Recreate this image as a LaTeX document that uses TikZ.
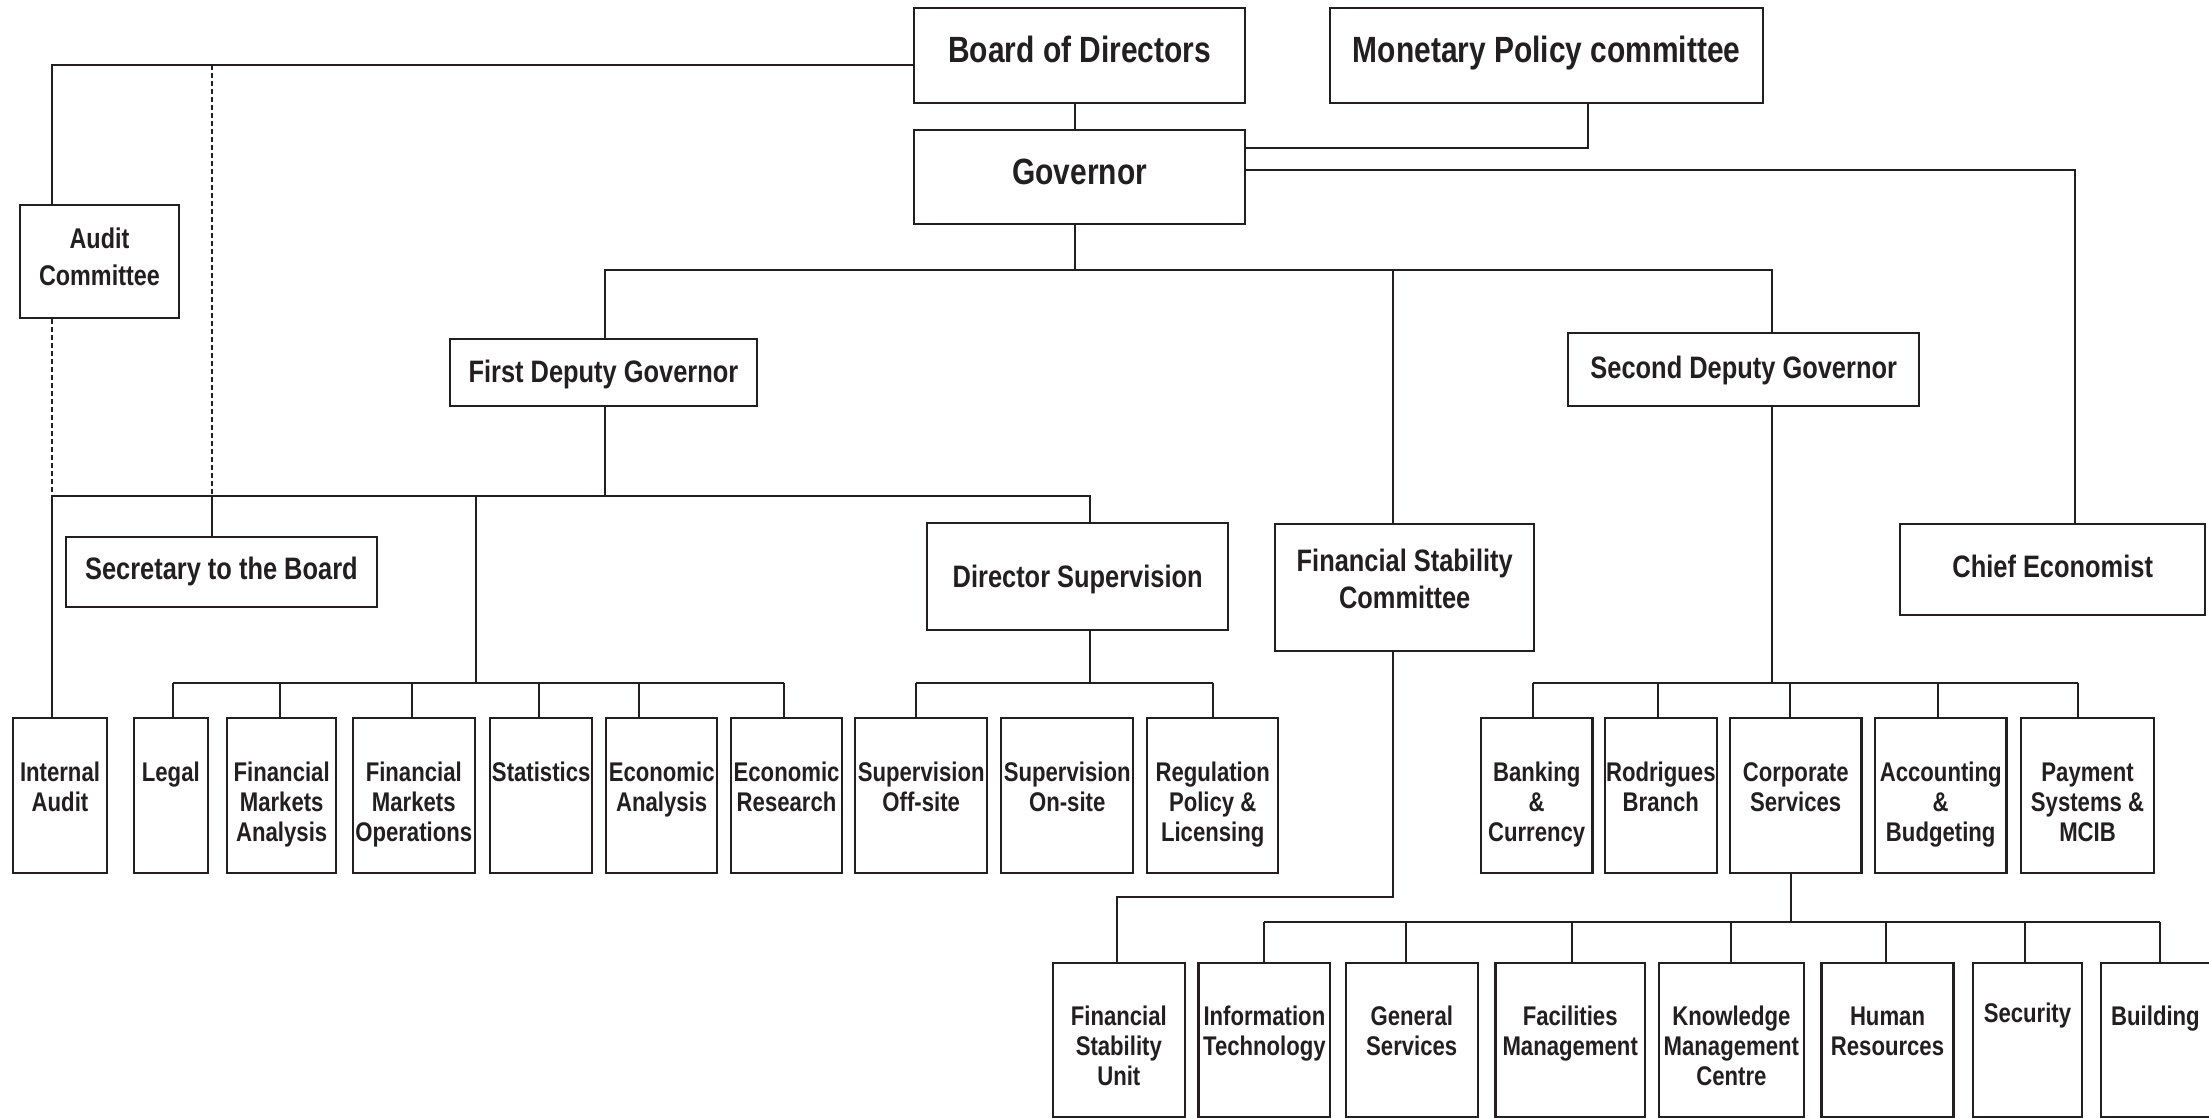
\documentclass[tikz,border=0pt]{standalone}
\usepackage{fontspec}
\setmainfont{Liberation Sans}[FakeStretch=0.82]
\usetikzlibrary{calc}
\definecolor{ink}{RGB}{35,31,32}
\tikzset{
  ubox/.style={draw=ink, text=ink, line width=2.4pt, inner sep=0pt, anchor=north west},
  conn/.style={draw=ink, line width=2pt},
  dconn/.style={draw=ink, line width=2pt, dash pattern=on 5pt off 3pt},
  big/.style={font=\bfseries\fontsize{36.5}{40}\selectfont},
  mid/.style={font=\bfseries\fontsize{31}{36.6}\selectfont},
  aud/.style={font=\bfseries\fontsize{28.5}{37}\selectfont},
  small/.style={font=\bfseries\fontsize{27}{30}\selectfont},
}
\newcommand\bt[4]{\parbox[t][#2pt][t]{#1pt}{\centering\rule{0pt}{#3pt}#4}}
\begin{document}
\begin{tikzpicture}[x=1pt,y=-1pt]
\fill[white] (0,0) rectangle (2209,1117);
\useasboundingbox (0,0) rectangle (2209,1117);

% upper boxes
\node[ubox,big] (board) at (913,7) {\bt{331}{95}{54}{Board of Directors}};
\node[ubox,big] (mpc) at (1329,7) {\bt{433}{95}{54}{Monetary Policy committee}};
\node[ubox,big] (gov) at (913,129) {\bt{331}{94}{54}{Governor}};
\node[ubox,aud] (audit) at (19,204) {\bt{158.5}{113}{43}{Audit\\Committee}};
\node[ubox,mid] (fdg) at (449,337.5) {\bt{306.5}{67.5}{43.5}{First Deputy Governor}};
\node[ubox,mid] (sdg) at (1567,332) {\bt{351}{73}{45}{Second Deputy Governor}};
\node[ubox,mid] (sec) at (64.7,535.7) {\bt{311}{70.3}{42.6}{Secretary to the Board}};
\node[ubox,mid] (ds) at (926,522) {\bt{301}{107}{64}{Director Supervision}};
\node[ubox,mid] (fsc) at (1274,522.7) {\bt{259}{127.3}{48}{Financial Stability\\Committee}};
\node[ubox,mid] (chief) at (1899,522.7) {\bt{305}{91}{54}{Chief Economist}};

% row 1
\node[ubox,small] (ia) at (11.6,717) {\bt{94.4}{155}{63}{Internal\\Audit}};
\node[ubox,small] (legal) at (132.7,717) {\bt{73.8}{155}{63}{Legal}};
\node[ubox,small] (fma) at (226,717) {\bt{109}{155}{63}{Financial\\Markets\\Analysis}};
\node[ubox,small] (fmo) at (351.6,717) {\bt{121.9}{155}{63}{Financial\\Markets\\Operations}};
\node[ubox,small] (stat) at (489,717) {\bt{102}{155}{63}{Statistics}};
\node[ubox,small] (ea) at (605,717) {\bt{111}{155}{63}{Economic\\Analysis}};
\node[ubox,small] (er) at (729.7,717) {\bt{111.3}{155}{63}{Economic\\Research}};
\node[ubox,small] (soff) at (854,717) {\bt{132}{155}{63}{Supervision\\Off-site}};
\node[ubox,small] (son) at (1000,717) {\bt{132}{155}{63}{Supervision\\On-site}};
\node[ubox,small] (reg) at (1146,717) {\bt{131}{155}{63}{Regulation\\Policy \&\\Licensing}};
\node[ubox,small] (bank) at (1479.6,717) {\bt{111.8}{155}{63}{Banking\\\&\\Currency}};
\node[ubox,small] (rod) at (1603.7,717) {\bt{111.8}{155}{63}{Rodrigues\\Branch}};
\node[ubox,small] (corp) at (1728.6,717) {\bt{131.8}{155}{63}{Corporate\\Services}};
\node[ubox,small] (acc) at (1873.6,717) {\bt{131.8}{155}{63}{Accounting\\\&\\Budgeting}};
\node[ubox,small] (pay) at (2020,717) {\bt{132.7}{155}{63}{Payment\\Systems \&\\MCIB}};

% row 2
\node[ubox,small] (fsu) at (1051.7,961.7) {\bt{131.8}{154.3}{63}{Financial\\Stability\\Unit}};
\node[ubox,small] (it) at (1197.4,961.7) {\bt{131.6}{154.3}{63}{Information\\Technology}};
\node[ubox,small] (gs) at (1344.6,961.7) {\bt{131.9}{154.3}{63}{General\\Services}};
\node[ubox,small] (fm) at (1494.2,961.7) {\bt{149.6}{154.3}{63}{Facilities\\Management}};
\node[ubox,small] (kmc) at (1657.7,961.7) {\bt{144.9}{154.3}{63}{Knowledge\\Management\\Centre}};
\node[ubox,small] (hr) at (1820.4,961.7) {\bt{131.8}{154.3}{63}{Human\\Resources}};
\node[ubox,small] (secu) at (1971.5,961.7) {\bt{109.5}{154.3}{60}{Security}};
\node[ubox,small] (bld) at (2099.5,961.7) {\bt{109.5}{154.3}{63}{Building}};

% coordinates
\coordinate (bl) at (52,65);
\coordinate (dl) at (212,65);
\coordinate (h1) at (0,496);
\coordinate (h2) at (0,270);
\coordinate (h3) at (0,148);
\coordinate (h4) at (0,170);
\coordinate (h5) at (0,683);
\coordinate (h6) at (0,922);
\coordinate (gx) at (1075,0);
\coordinate (fx) at (605,0);
\coordinate (sx) at (1772,0);
\coordinate (fsx) at (1392.5,0);
\coordinate (mx) at (1588,0);
\coordinate (cx) at (2075,0);
\coordinate (dsx) at (1090,0);
\coordinate (vx) at (476,0);
\coordinate (cpx) at (1791,0);
\coordinate (fux) at (1117,0);
\coordinate (h7) at (0,897);

% board / audit / secretary
\draw[conn] (board.west |- bl) -- (bl) -- (audit.north -| bl);
\draw[dconn] (dl) -- (dl |- h1);
\draw[conn] (dl |- h1) -- (sec.north -| dl);
\draw[dconn] (audit.south -| bl) -- (bl |- h1);
\draw[conn] (bl |- h1) -- (ia.north -| bl);

% board -> governor, mpc, chief
\draw[conn] (board.south -| gx) -- (gov.north -| gx);
\draw[conn] (mpc.south -| mx) -- (mx |- h3) -- (gov.east |- h3);
\draw[conn] (gov.east |- h4) -- (cx |- h4) -- (chief.north -| cx);

% governor tree
\draw[conn] (gov.south -| gx) -- (gx |- h2);
\draw[conn] (fdg.north -| fx) -- (fx |- h2) -- (sx |- h2) -- (sdg.north -| sx);
\draw[conn] (fsx |- h2) -- (fsc.north -| fsx);

% first deputy governor tree
\draw[conn] (fdg.south -| fx) -- (fx |- h1);
\draw[conn] (bl |- h1) -- (dsx |- h1) -- (ds.north -| dsx);
\draw[conn] (vx |- h1) -- (vx |- h5);
\draw[conn] (172.5,683) -- (783.6,683);
\foreach \n/\x in {legal/172.5, fma/280, fmo/412, stat/539, ea/639, er/783.6}
  \draw[conn] (\x,683) -- (\n.north -| \x,0);

% director supervision tree
\draw[conn] (ds.south -| dsx) -- (dsx |- h5);
\draw[conn] (916,683) -- (1213,683);
\foreach \n/\x in {soff/916, reg/1213}
  \draw[conn] (\x,683) -- (\n.north -| \x,0);

% second deputy governor tree
\draw[conn] (sdg.south -| sx) -- (sx |- h5);
\draw[conn] (1532.8,683) -- (2078,683);
\foreach \n/\x in {bank/1532.8, rod/1658.4, corp/1790.3, acc/1938.3, pay/2078}
  \draw[conn] (\x,683) -- (\n.north -| \x,0);

% corporate services tree
\draw[conn] (corp.south -| cpx) -- (cpx |- h6);
\draw[conn] (1263.7,922) -- (2160,922);
\foreach \n/\x in {it/1263.7, gs/1406.3, fm/1572, kmc/1731, hr/1886, secu/2025.4, bld/2160}
  \draw[conn] (\x,922) -- (\n.north -| \x,0);

% financial stability committee -> unit
\draw[conn] (fsc.south -| fsx) -- (fsx |- h7) -- (fux |- h7) -- (fsu.north -| fux);
\end{tikzpicture}
\end{document}
